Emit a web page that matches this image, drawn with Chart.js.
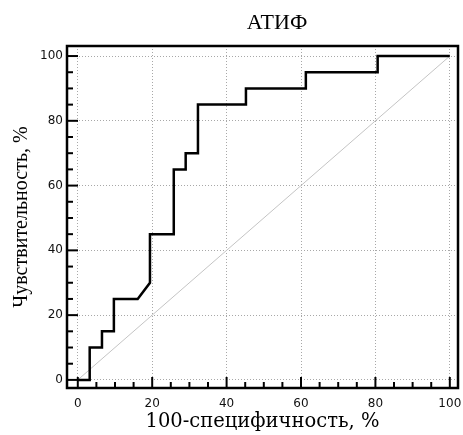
<!DOCTYPE html>
<html><head><meta charset="utf-8">
<script src="https://cdn.jsdelivr.net/npm/chart.js@4/dist/chart.umd.min.js"></script>
<style>html,body{margin:0;padding:0;background:#fff;}#wrap{width:463px;height:435px;position:relative}</style>
</head><body><div id="wrap"><canvas id="c" width="463" height="435"></canvas></div>
<script>
const chartTitle = 'АТИФ';
const xAxisTitle = '100-специфичность, %';
const yAxisTitle = 'Чувствительность, %';
const rocX = [0, 3.2, 3.2, 6.5, 6.5, 9.7, 9.7, 16.1, 19.4, 19.4, 25.8, 25.8, 29.0, 29.0, 32.3, 32.3, 45.2, 45.2, 61.3, 61.3, 80.6, 80.6, 100];
const rocY = [0, 0, 10, 10, 15, 15, 25, 25, 30, 45, 45, 65, 65, 70, 70, 85, 85, 90, 90, 95, 95, 100, 100];
const refX = [0, 100];
const refY = [0, 100];
const tickValues = [0, 5, 10, 15, 20, 25, 30, 35, 40, 45, 50, 55, 60, 65, 70, 75, 80, 85, 90, 95, 100];
const labelValues = [0, 20, 40, 60, 80, 100];

const rocPoints = rocX.map((x, i) => ({x: x, y: rocY[i]}));
const refPoints = refX.map((x, i) => ({x: x, y: refY[i]}));

const isLabel = v => labelValues.includes(v);

const framePlugin = {
  id: 'frame',
  afterDatasetsDraw(chart) {
    const ctx = chart.ctx;
    const a = chart.chartArea;
    const xs = chart.scales.x, ys = chart.scales.y;
    ctx.save();
    ctx.strokeStyle = '#000';
    ctx.lineWidth = 2;
    tickValues.forEach(v => {
      const len = isLabel(v) ? 11 : 6;
      const px = xs.getPixelForValue(v);
      ctx.beginPath(); ctx.moveTo(px, a.bottom); ctx.lineTo(px, a.bottom - len); ctx.stroke();
      const py = ys.getPixelForValue(v);
      ctx.beginPath(); ctx.moveTo(a.left, py); ctx.lineTo(a.left + len, py); ctx.stroke();
    });
    ctx.lineWidth = 2.5;
    ctx.strokeRect(a.left, a.top, a.right - a.left, a.bottom - a.top);
    ctx.restore();
  },
  afterDraw(chart) {
    const ctx = chart.ctx;
    ctx.save();
    ctx.fillStyle = '#000';
    ctx.font = '22px "Liberation Serif"';
    ctx.textAlign = 'center';
    ctx.textBaseline = 'middle';
    ctx.fillText(chartTitle, 277, 23);
    ctx.restore();
  }
};

const gridColor = ctx => (ctx.tick && isLabel(ctx.tick.value)) ? '#a8a8a8' : 'rgba(0,0,0,0)';

new Chart(document.getElementById('c'), {
  type: 'scatter',
  data: {
    datasets: [
      {data: refPoints, showLine: true, borderColor: '#c4c4c4', borderWidth: 1, pointRadius: 0, order: 2},
      {data: rocPoints, showLine: true, borderColor: '#000', borderWidth: 2.5, pointRadius: 0, order: 1, borderJoinStyle: 'miter'}
    ]
  },
  options: {
    responsive: false,
    animation: false,
    devicePixelRatio: 1,
    layout: {padding: {top: 46, right: 5, bottom: 0, left: 0}},
    plugins: {legend: {display: false}, tooltip: {enabled: false}, title: {display: false}},
    scales: {
      x: {
        type: 'linear', min: -2.9, max: 102.2,
        afterBuildTicks: s => { s.ticks = tickValues.map(v => ({value: v})); },
        afterFit: s => { s.height = 47; s.paddingRight = 0; s.paddingLeft = 0; },
        grid: {color: gridColor, lineWidth: 1, drawTicks: false},
        border: {display: false, dash: [1, 2]},
        ticks: {autoSkip: false, maxRotation: 0, padding: 9, color: '#111',
          font: {family: '"DejaVu Sans"', size: 12},
          callback: v => isLabel(v) ? String(v) : ''},
        title: {display: true, text: xAxisTitle, color: '#000',
          font: {family: '"DejaVu Serif"', size: 19.5}, padding: {top: 0, bottom: 1}}
      },
      y: {
        type: 'linear', min: -2.5, max: 103.1,
        afterBuildTicks: s => { s.ticks = tickValues.map(v => ({value: v})); },
        afterFit: s => { s.width = 67; s.paddingTop = 0; s.paddingBottom = 0; },
        grid: {color: gridColor, lineWidth: 1, drawTicks: false},
        border: {display: false, dash: [1, 2]},
        ticks: {autoSkip: false, padding: 4, color: '#111',
          font: {family: '"DejaVu Sans"', size: 12},
          callback: v => isLabel(v) ? String(v) : ''},
        title: {display: true, text: yAxisTitle, color: '#000',
          font: {family: '"Liberation Serif"', size: 20}, padding: {top: 10, bottom: 0}}
      }
    }
  },
  plugins: [framePlugin]
});
</script></body></html>
